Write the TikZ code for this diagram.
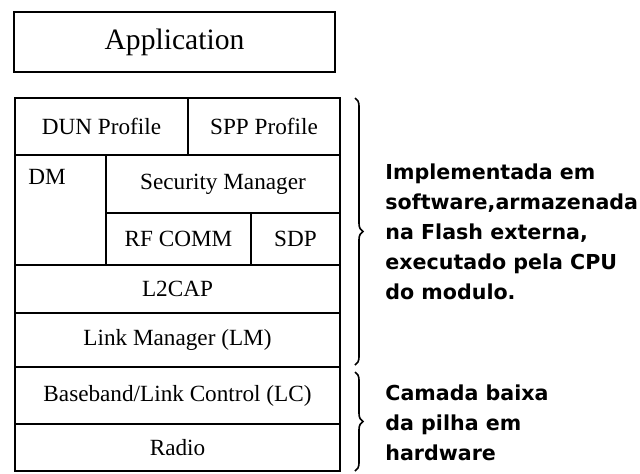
\documentclass[tikz,border=0pt]{standalone}
\usepackage{fontspec}
\setmainfont{Liberation Serif}
\newfontfamily\notefont{DejaVu Sans}
\usetikzlibrary{positioning,decorations.pathreplacing}
\tikzstyle{cell} = [rectangle, draw, line width=1pt, inner sep=0pt, outer sep=0pt,
    font=\fontsize{11.6}{13}\selectfont]
\tikzstyle{note} = [anchor=north west, inner sep=0pt, align=left,
    font=\notefont\bfseries\fontsize{10.3}{15}\selectfont]
\tikzstyle{curly} = [decorate, decoration={brace,amplitude=4pt}, line width=0.8pt]

\begin{document}
\begin{tikzpicture}[x=0.5pt,y=-0.5pt]
  \useasboundingbox (0,0) rectangle (640,473);

  \node[cell, minimum width=160.5pt, minimum height=30pt,
        font=\fontsize{14.8}{16}\selectfont] (app) at (174.5,42) {Application};

  % profiles and middle layers
  \node[cell, minimum width=86.5pt, minimum height=28.5pt] (dun) at (101.5,126.5) {DUN Profile};
  \node[cell, minimum width=76pt, minimum height=28.5pt]   (spp) at (264,126.5) {SPP Profile};
  \node[cell, minimum width=45.5pt, minimum height=55pt]   (dm) at (60.5,210) {};
  \node[inner sep=0pt, font=\fontsize{11.6}{13}\selectfont] (dmtext) at (47,177) {DM};
  \node[cell, minimum width=117pt, minimum height=29pt]    (secm) at (223,184) {Security Manager};
  \node[cell, minimum width=72.5pt, minimum height=26pt]   (rfc) at (178.5,239) {RF COMM};
  \node[cell, minimum width=44.5pt, minimum height=26pt]   (sdp) at (295.5,239) {SDP};

  % lower stack
  \node[cell, minimum width=162.5pt, minimum height=24pt] (l2cap) at (177.5,289) {L2CAP};
  \node[cell, minimum width=162.5pt, minimum height=27pt, below=0pt of l2cap] (lm) {Link Manager (LM)};
  \node[cell, minimum width=162.5pt, minimum height=28.5pt, below=0pt of lm] (bb) {Baseband/Link Control (LC)};
  \node[cell, minimum width=162.5pt, minimum height=23.5pt, below=0pt of bb] (radio) {Radio};

  % braces
  \draw[curly] ([xshift=7.5pt]spp.north east) -- ([xshift=7.5pt,yshift=1pt]lm.south east);
  \draw[curly] ([xshift=7.5pt,yshift=-2.5pt]bb.north east) -- ([xshift=7.5pt]radio.south east);

  \node[note] (soft) at (385,163.5) {Implementada em\\software,armazenada\\na Flash externa,\\executado pela CPU\\do modulo.};
  \node[note] (hard) at (385,384.5) {Camada baixa\\da pilha em\\hardware};
\end{tikzpicture}
\end{document}
